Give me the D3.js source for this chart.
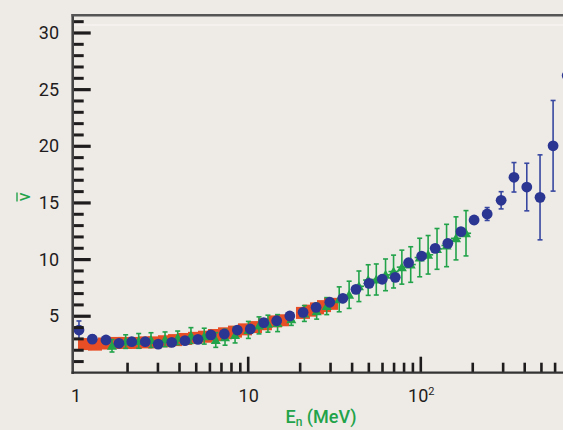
<!DOCTYPE html>
<html><head><meta charset="utf-8">
<script src="https://cdn.jsdelivr.net/npm/d3@7"></script>
<style>
html,body{margin:0;padding:0;background:#eeeae6;}
svg{display:block;}
text{font-family:Roboto,"Liberation Sans",sans-serif;}
</style></head>
<body>
<svg id="c" width="563" height="430"></svg>
<script>
// ---- data ----
const blueE   = [1.053,1.258,1.51,1.796,2.13,2.55,3.03,3.63,4.33,5.15,6.12,7.32,8.71,10.35,12.38,14.72,17.54,20.94,24.9,29.9,35.6,42.4,50.5,60.2,71.6,85.5,101.8,122,144.4,172,205,244,294,349,414,494,588,710];
const blueV   = [3.74,2.94,2.86,2.57,2.71,2.71,2.5,2.65,2.8,2.92,3.31,3.39,3.74,3.83,4.39,4.56,4.98,5.3,5.74,6.19,6.54,7.33,7.86,8.22,8.39,9.68,10.27,10.95,11.39,12.42,13.45,13.98,15.19,17.22,16.36,15.45,20.0,26.2];
const blueErr = [0.8,0.35,0.2,0,0,0,0,0,0,0,0,0,0,0,0,0,0,0,0,0,0,0,0,0,0,0,0,0,0,0,0.3,0.57,0.76,1.3,2.1,3.75,4.0,0];

const greenE   = [1.636,1.963,2.336,2.753,3.32,3.93,4.69,5.60,6.53,7.39,8.45,10.09,11.63,13.1,14.9,17.9,21.3,25.1,28.7,33.9,38.7,44.1,49.9,55.6,62.9,70.0,78.2,88.0,99.2,111,125,142,161,184];
const greenV   = [2.35,2.72,2.78,2.85,2.92,3.05,3.25,3.2,2.86,3.1,3.3,3.75,4.15,4.3,4.35,4.7,5.2,5.4,5.85,6.45,6.85,7.6,8.15,8.2,8.61,8.9,9.29,9.52,10.14,10.38,10.9,11.2,11.83,12.28];
const greenErr = [0.55,0.6,0.65,0.65,0.65,0.6,0.7,0.7,0.65,0.7,0.7,0.75,0.75,0.75,0.75,0.55,0.7,0.7,0.75,1.1,1.2,1.35,1.35,1.37,1.4,1.45,1.5,1.57,1.7,1.7,1.8,1.87,1.9,2.0];

const redE = [1.141,1.304,1.490,1.703,1.946,2.223,2.541,2.903,3.318,3.792,4.332,4.951,5.657,6.464,7.388,8.440,9.647,11.02,12.59,14.40,15.80, 20.91,22.96,25.21,27.68,30.39];
const redV = [2.5,2.45,2.55,2.6,2.6,2.6,2.65,2.65,2.75,2.85,2.95,3.05,3.15,3.3,3.45,3.6,3.8,4.0,4.25,4.5,4.6, 5.25,5.45,5.65,5.85,6.05];

const yMinor = d3.range(1,32).filter(v=>v%5!==0);
const yMajor = [5,10,15,20,25,30];
const xMinor = [2,3,4,5,6,7,8,9,20,30,40,50,60,70,80,90,200,300,400,500,600];
const xMajor = [10,100];
const xLabels = [{v:1,t:"1"},{v:10,t:"10"},{v:100,t:"10",sup:"2"}];

// ---- scales ----
const x = d3.scaleLog().domain([0.9685,671.1]).range([72.7,563]);
const y = d3.scaleLinear().domain([0,31.5]).range([372.4,15.5]);

const svg = d3.select("#c");
const green="#22a34a", blue="#2b3592", red="#e84e26", ink="#1e1c1c";

// faint line
svg.append("line").attr("x1",73).attr("x2",563).attr("y1",25).attr("y2",25)
  .attr("stroke","#ffffff").attr("stroke-opacity",0.7).attr("stroke-width",1);

// ---- red band ----
svg.append("g").selectAll("rect").data(redE).join("rect")
  .attr("x",(d)=>x(d)-7).attr("y",(d,i)=>y(redV[i])-6)
  .attr("width",14).attr("height",12).attr("fill",red);

// ---- green ----
const gg = svg.append("g").attr("stroke",green).attr("stroke-width",1.6);
greenE.forEach((e,i)=>{
  const cx=x(e), cy=y(greenV[i]), t=y(greenV[i]+greenErr[i]), b=y(greenV[i]-greenErr[i]);
  gg.append("line").attr("x1",cx).attr("x2",cx).attr("y1",t).attr("y2",b);
  gg.append("line").attr("x1",cx-2.5).attr("x2",cx+2.5).attr("y1",t).attr("y2",t);
  gg.append("line").attr("x1",cx-2.5).attr("x2",cx+2.5).attr("y1",b).attr("y2",b);
  if(e>40){
    gg.append("line").attr("x1",x(e/1.07)).attr("x2",x(e*1.07)).attr("y1",cy).attr("y2",cy);
  }
});
svg.append("g").selectAll("path").data(greenE).join("path")
  .attr("d",(d,i)=>{const cx=x(d),cy=y(greenV[i]);return `M${cx},${cy-5}L${cx+5},${cy+4}L${cx-5},${cy+4}Z`;})
  .attr("fill",green);

// ---- blue ----
const bg = svg.append("g").attr("stroke","#3848a0").attr("stroke-width",1.6);
blueE.forEach((e,i)=>{
  if(!blueErr[i]) return;
  const cx=x(e), t=y(blueV[i]+blueErr[i]), b=y(blueV[i]-blueErr[i]);
  bg.append("line").attr("x1",cx).attr("x2",cx).attr("y1",t).attr("y2",b);
  bg.append("line").attr("x1",cx-2.5).attr("x2",cx+2.5).attr("y1",t).attr("y2",t);
  bg.append("line").attr("x1",cx-2.5).attr("x2",cx+2.5).attr("y1",b).attr("y2",b);
});
svg.append("g").selectAll("circle").data(blueE).join("circle")
  .attr("cx",d=>x(d)).attr("cy",(d,i)=>y(blueV[i])).attr("r",5.4).attr("fill",blue);

// ---- axes ----
function styleTicks(g,w){g.select(".domain").remove();g.selectAll("line").attr("stroke",ink).attr("stroke-width",w);}
svg.append("g").attr("transform","translate(72.7,0)")
  .call(d3.axisLeft(y).tickValues(yMinor).tickSize(-11).tickFormat(""))
  .call(g=>styleTicks(g,3));
svg.append("g").attr("transform","translate(72.7,0)")
  .call(d3.axisLeft(y).tickValues(yMajor).tickSize(-18).tickFormat(""))
  .call(g=>styleTicks(g,3.2));
svg.append("g").attr("transform","translate(0,372.7)")
  .call(d3.axisBottom(x).tickValues(xMinor).tickSize(-10).tickFormat(""))
  .call(g=>styleTicks(g,2.6));
svg.append("g").attr("transform","translate(0,372.7)")
  .call(d3.axisBottom(x).tickValues(xMajor).tickSize(-16).tickFormat(""))
  .call(g=>styleTicks(g,2.6));

// axis lines
svg.append("line").attr("x1",72.7).attr("x2",72.7).attr("y1",14).attr("y2",374).attr("stroke","#454545").attr("stroke-width",2.6);
svg.append("line").attr("x1",71.5).attr("x2",563).attr("y1",372.7).attr("y2",372.7).attr("stroke","#333333").attr("stroke-width",2.2);
svg.append("line").attr("x1",71.5).attr("x2",563).attr("y1",15.3).attr("y2",15.3).attr("stroke","#555555").attr("stroke-width",2.6);

// tick labels
svg.append("g").selectAll("text").data(yMajor).join("text")
  .attr("x",59).attr("y",d=>y(d)).attr("dy","0.36em").attr("text-anchor","end")
  .attr("font-size",18).attr("fill",ink).text(d=>d);
const xl = svg.append("g").selectAll("text").data(xLabels).join("text")
  .attr("x",d=>x(d.v)+1).attr("y",402).attr("text-anchor","middle")
  .attr("font-size",18).attr("fill",ink);
xl.append("tspan").text(d=>d.t);
xl.filter(d=>d.sup).append("tspan").attr("dy",-7).attr("font-size",11).text(d=>d.sup);

// axis titles
const xt = svg.append("text").attr("x",321).attr("y",423).attr("text-anchor","middle")
  .attr("font-size",18).attr("font-weight",500).attr("fill",green);
xt.append("tspan").text("E");
xt.append("tspan").attr("dy",3).attr("font-size",12).text("n");
xt.append("tspan").attr("dy",-3).text(" (MeV)");
const yt = svg.append("g").attr("transform","translate(24,197) rotate(-90)");
yt.append("text").attr("text-anchor","middle").attr("dy","0.35em").attr("font-size",18).attr("fill",green).text("ν");
yt.append("line").attr("x1",-4.5).attr("x2",4.5).attr("y1",-7).attr("y2",-7).attr("stroke",green).attr("stroke-width",1.4);
</script>
</body></html>
